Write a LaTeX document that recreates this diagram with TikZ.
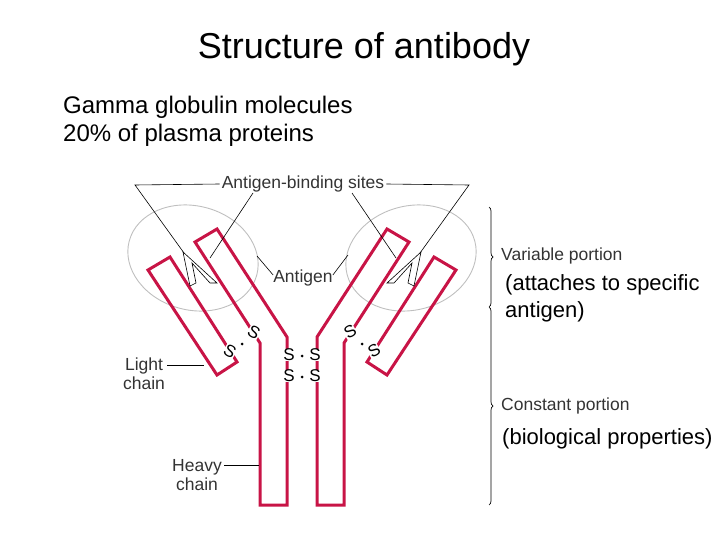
\documentclass[tikz,border=0pt]{standalone}
\usepackage{fontspec}
\setmainfont{Liberation Sans}
\usetikzlibrary{decorations.pathreplacing}
\begin{document}
\begin{tikzpicture}[x=1pt,y=-1pt,
  chain/.style={draw={rgb,255:red,200;green,20;blue,70},line width=3pt,line join=miter},
  ptr/.style={draw=black,line width=0.6pt},
  lbl/.style={font=\fontsize{17.5}{19}\selectfont,text=black!80,inner sep=2pt},
  sl/.style={font=\fontsize{17}{17}\selectfont,fill=white,inner sep=0.3pt},
  dotn/.style={circle,fill=black,inner sep=0pt,minimum size=3pt},
  big/.style={font=\fontsize{24}{29}\selectfont,align=left,inner sep=0pt}]
\useasboundingbox (0,0) rectangle (720,540);
\node[font=\fontsize{36}{40}\selectfont] (title) at (364,49) {Structure of antibody};
\node[big,anchor=north west] (intro) at (63,96) {Gamma globulin molecules\\[-1pt]20\% of plasma proteins};
% ellipses
\draw[gray!50,line width=0.9pt,rotate around={-15:(193,258)}] (193,258) ellipse (66 and 52);
\draw[gray!50,line width=0.9pt,rotate around={15:(411,258)}] (411,258) ellipse (66 and 52);
% heavy chains
\draw[chain] (260,505) -- (287,505) -- (287,337) -- (217,229) -- (195,242) -- (260,343) -- cycle;
\draw[chain] (344,505) -- (317,505) -- (317,337) -- (387,229) -- (409,242) -- (344,343) -- cycle;
% light chains
\draw[chain] (148,270) -- (170,257) -- (237,362) -- (217,375) -- cycle;
\draw[chain] (456,270) -- (434,257) -- (367,362) -- (387,375) -- cycle;
% S labels
\node[sl,rotate=-30] (s1) at (230,351) {S};
\node[dotn] (d1) at (242,344) {};
\node[sl,rotate=-30] (s2) at (254,332) {S};
\node[sl] (s3a) at (289,355) {S};
\node[dotn] (d3) at (302,356) {};
\node[sl] (s3b) at (315,355) {S};
\node[sl] (s4a) at (289,376) {S};
\node[dotn] (d4) at (302,377) {};
\node[sl] (s4b) at (315,376) {S};
\node[sl,rotate=30] (s5) at (350,332) {S};
\node[dotn] (d2) at (362,344) {};
\node[sl,rotate=30] (s6) at (374,351) {S};
% antigens
\draw[ptr,fill=white] (190,286) -- (183,252) -- (217,283) -- (210,283) -- (192,263) -- (196,283) -- cycle;
\draw[ptr,fill=white] (414,286) -- (421,252) -- (387,283) -- (394,283) -- (412,263) -- (408,283) -- cycle;
% antigen-binding sites
\node[lbl] (abs) at (303,184) {Antigen-binding sites};
\coordinate (lc) at (135,185);
\coordinate (rc) at (469,185);
\coordinate (la) at (184,253);
\coordinate (lb) at (210,258);
\coordinate (ra) at (420,253);
\coordinate (rb) at (396,258);
\draw[ptr] (abs.west) -- (lc) -- (la);
\draw[ptr] (abs.east) -- (rc) -- (ra);
\draw[ptr] (253,193) -- (lb);
\draw[ptr] (352,193) -- (rb);
% antigen label
\node[lbl] (ag) at (303,278) {Antigen};
\coordinate (ale) at (257,256);
\coordinate (are) at (348,255);
\draw[ptr] (ag.west) ++(2,-3) -- (ale);
\draw[ptr] (ag.east) ++(-2,-3) -- (are);
% chain labels
\node[lbl,align=center] (light) at (144,374) {Light\\chain};
\coordinate (le) at (204,365);
\draw[ptr] (light.east|-le) -- (le);
\node[lbl,align=center] (heavy) at (197,475) {Heavy\\chain};
\coordinate (he) at (259,465);
\draw[ptr] (heavy.east|-he) -- (he);
% braces
\coordinate (b1) at (489,207);
\coordinate (b2) at (489,307);
\coordinate (b3) at (489,505);
\draw[line width=0.7pt,decorate,decoration={brace,amplitude=4pt}] (b1) -- (b2);
\draw[line width=0.7pt,decorate,decoration={brace,amplitude=4pt}] (b2) -- (b3);
\node[lbl,anchor=west] (var) at (499,256) {Variable portion};
\node[lbl,anchor=west] (con) at (499,406) {Constant portion};
\node[big,anchor=north west,font=\fontsize{22}{27}\selectfont] (vt) at (505,274) {(attaches to specific\\antigen)};
\node[big,anchor=north west,font=\fontsize{22}{23}\selectfont] (ct) at (502,428) {(biological properties)};
\end{tikzpicture}
\end{document}
